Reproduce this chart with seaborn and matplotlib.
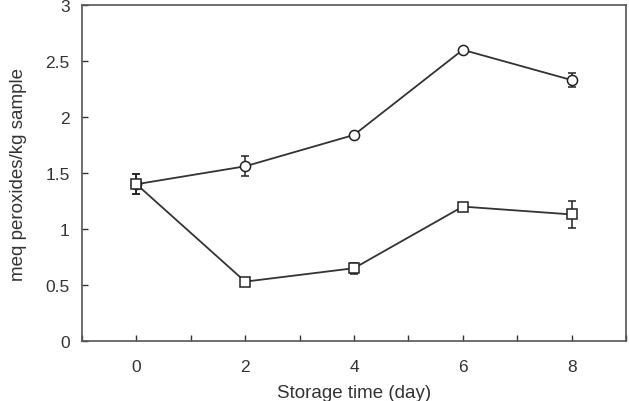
import numpy as np
import pandas as pd
import seaborn as sns
import matplotlib.pyplot as plt
from matplotlib.ticker import MultipleLocator

# data
days = [0, 2, 4, 6, 8]
circle_mean = [1.40, 1.56, 1.84, 2.60, 2.33]
circle_err = [0.09, 0.09, 0.02, 0.02, 0.06]
square_mean = [1.40, 0.53, 0.65, 1.20, 1.13]
square_err = [0.09, 0.02, 0.05, 0.02, 0.12]

df = pd.DataFrame({
    "day": days * 2,
    "value": circle_mean + square_mean,
    "err": circle_err + square_err,
    "series": ["circle"] * 5 + ["square"] * 5,
})

sns.set_style("white")
plt.rcParams["font.family"] = ["Liberation Sans", "DejaVu Sans"]

fig = plt.figure(figsize=(6.29, 4.02), dpi=100)
ax = fig.add_axes([0.1304, 0.1493, 0.8648, 0.8357])

for name, marker, ms in [("circle", "o", 7.3), ("square", "s", 7)]:
    sub = df[df["series"] == name]
    ax.errorbar(sub["day"], sub["value"], yerr=sub["err"], fmt="none",
                ecolor="#222222", elinewidth=1.1, capsize=3, capthick=1.1, zorder=2)
    sns.lineplot(data=sub, x="day", y="value", ax=ax, color="#333333",
                 linewidth=1.3, marker=marker, markersize=ms,
                 markerfacecolor="white", markeredgecolor="#222222",
                 markeredgewidth=1.1, zorder=3)

ax.set_xlim(-1, 9)
ax.set_ylim(0, 3)
ax.xaxis.set_major_locator(MultipleLocator(2))
ax.xaxis.set_minor_locator(MultipleLocator(1))
ax.set_yticks([0, 0.5, 1, 1.5, 2, 2.5, 3])
ax.set_yticklabels(["0", "0.5", "1", "1.5", "2", "2.5", "3"])

ax.tick_params(axis="both", which="both", direction="in", labelsize=12.5,
               colors="#333333", labelcolor="#333333")
ax.tick_params(axis="x", which="major", length=4, width=1, pad=13)
ax.tick_params(axis="x", which="minor", length=4, width=1)
ax.tick_params(axis="y", which="major", length=4, width=1, pad=9)
ax.tick_params(bottom=True, left=True, top=False, right=False)
ax.tick_params(axis="x", which="minor", bottom=True, top=False)

for s in ax.spines.values():
    s.set_color("#555555")
    s.set_linewidth(1.2)

# kept just inside the canvas (the reference crops it slightly)
ax.set_xlabel("Storage time (day)", fontsize=13.5, color="#333333", labelpad=7)
ax.set_ylabel("meq peroxides/kg sample", fontsize=13.5, color="#333333", labelpad=13)

fig.savefig("out.png", dpi=100)
